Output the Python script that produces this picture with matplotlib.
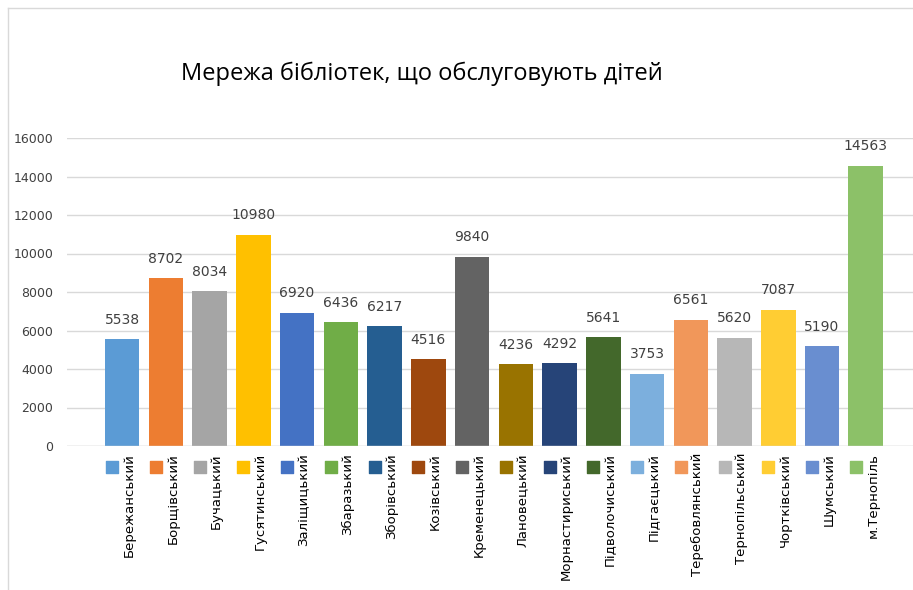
import matplotlib.pyplot as plt
from matplotlib.lines import Line2D
from matplotlib.transforms import blended_transform_factory, offset_copy

# Data
districts = ['Бережанський', 'Борщівський', 'Бучацький', 'Гусятинський', 'Заліщицький',
             'Збаразький', 'Зборівський', 'Козівський', 'Кременецький', 'Лановецький',
             'Морнастириський', 'Підволочиський', 'Підгаєцький', 'Теребовлянський',
             'Тернопільський', 'Чортківський', 'Шумський', 'м.Тернопіль']
children = [5538, 8702, 8034, 10980, 6920, 6436, 6217, 4516, 9840, 4236,
            4292, 5641, 3753, 6561, 5620, 7087, 5190, 14563]
colors = ['#5B9BD5', '#ED7D31', '#A5A5A5', '#FFC000', '#4472C4', '#70AD47',
          '#255E91', '#9E480E', '#636363', '#997300', '#264478', '#43682B',
          '#7CAFDD', '#F1975A', '#B7B7B7', '#FFCD33', '#698ED0', '#8CC168']
yticks = [0, 2000, 4000, 6000, 8000, 10000, 12000, 14000, 16000]

W, H = 913, 590
fig = plt.figure(figsize=(W / 100, H / 100), dpi=100)

# chart border (Excel chart area)
fig.add_artist(Line2D([8 / W, 8 / W], [0, 1 - 8 / H], color='#D9D9D9', lw=1))
fig.add_artist(Line2D([8 / W, 1], [1 - 8 / H, 1 - 8 / H], color='#D9D9D9', lw=1))

# plot area in pixels
left, right, top, bottom = 67, 913, 138, 446
ax = fig.add_axes([left / W, 1 - bottom / H, (right - left) / W, (bottom - top) / H])

x = list(range(len(districts)))
ax.bar(x, children, width=0.79, color=colors, zorder=3)

ax.set_ylim(0, 16000)
ax.set_xlim(-1.26, 18.08)
ax.set_yticks(yticks)
ax.set_yticklabels([str(v) for v in yticks], fontsize=9, color='#404040')
ax.tick_params(axis='y', length=0, pad=10)
ax.set_xticks([])
ax.grid(axis='y', color='#D9D9D9', lw=1, zorder=0)
for s in ax.spines.values():
    s.set_visible(False)
ax.axhline(0, color='#D9D9D9', lw=1, zorder=4)

# value labels
for xi, v in zip(x, children):
    ax.annotate(str(v), (xi, v), xytext=(0, 9), textcoords='offset points',
                ha='center', va='bottom', fontsize=10, color='#404040')

# category labels with coloured squares
trans = blended_transform_factory(ax.transData, ax.transAxes)
for xi, name, c in zip(x, districts, colors):
    ax.scatter([xi], [-21 / (bottom - top)], marker='s', s=80, color=c,
               transform=offset_copy(trans, fig=fig, x=-10, y=0, units='dots'),
               clip_on=False, zorder=5)
    ax.text(xi, -7 / (bottom - top), name, rotation=90, ha='center', va='top',
            fontsize=9.5, color='#000000',
            transform=offset_copy(trans, fig=fig, x=7, y=0, units='dots'))

fig.text(422 / W, 1 - 74 / H, 'Мережа бібліотек, що обслуговують дітей',
         ha='center', va='center', fontsize=17, fontweight='medium',
         family=['Open Sans', 'DejaVu Sans'])

fig.savefig('out.png', dpi=100)
